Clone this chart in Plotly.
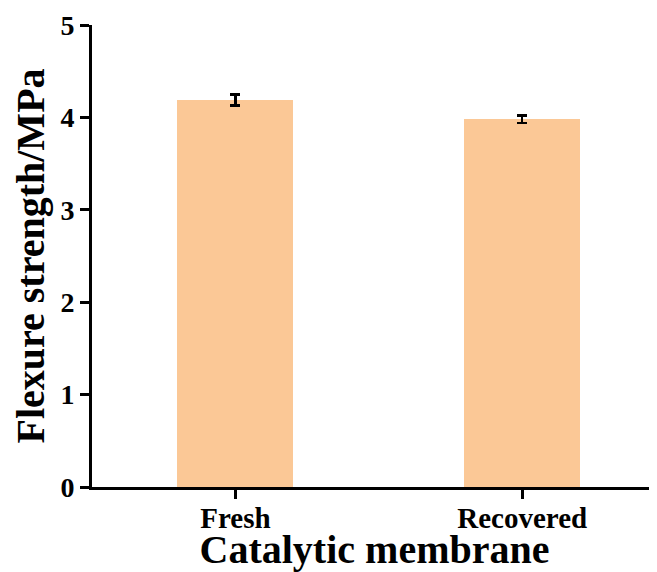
import plotly.graph_objects as go

categories = ["Fresh", "Recovered"]
values = [4.19, 3.98]
errors = [0.06, 0.04]
y_ticks = [0, 1, 2, 3, 4, 5]

FONT = "Liberation Serif"

fig = go.Figure()
fig.add_trace(go.Bar(
    x=categories, y=values,
    width=0.404,
    marker=dict(color="#FBC896", line=dict(width=0)),
    error_y=dict(type="data", array=errors, visible=True,
                 color="black", thickness=2.5, width=5),
))

# page body has an 8px margin; figure is sized/offset to compensate
fig.update_layout(
    width=649, height=564,
    margin=dict(l=84, r=0, t=17, b=85),
    plot_bgcolor="white", paper_bgcolor="white",
    showlegend=False,
    font=dict(family=FONT, color="black"),
    bargap=0,
)
fig.update_xaxes(
    range=[-0.5, 1.47], automargin=False,
    showline=True, linecolor="black", linewidth=3,
    ticks="outside", ticklen=9, tickwidth=3, tickcolor="black",
    tickfont=dict(family=FONT, size=29, color="black", weight="bold"),
    ticklabelstandoff=-6,
    title=dict(text="<b>Catalytic membrane</b>", font=dict(family=FONT, size=40, color="black"), standoff=2),
    showgrid=False, zeroline=False,
)
fig.update_yaxes(
    range=[0, 5], tickvals=y_ticks, automargin=False,
    showline=True, linecolor="black", linewidth=3,
    ticks="outside", ticklen=9, tickwidth=3, tickcolor="black",
    tickfont=dict(family=FONT, size=28, color="black", weight="bold"),
    title=dict(text="<b>Flexure strength/MPa</b>", font=dict(family=FONT, size=40, color="black"), standoff=4),
    showgrid=False, zeroline=False,
)

fig.write_html("out.html")
